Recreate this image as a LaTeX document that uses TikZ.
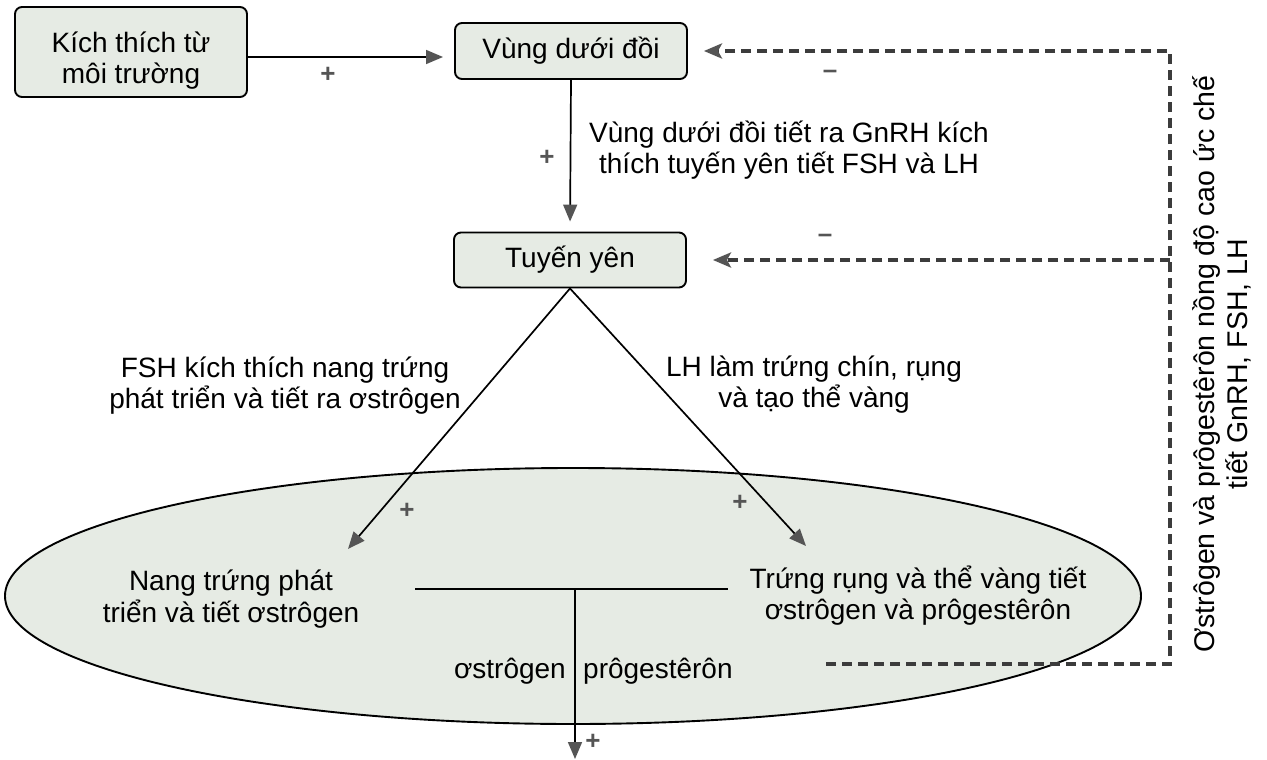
\documentclass[tikz,border=0pt]{standalone}
\usepackage{fontspec}
\setmainfont{Liberation Sans}
\usetikzlibrary{arrows.meta,shapes.geometric}
\definecolor{boxfill}{HTML}{E6EBE4}
\definecolor{headgray}{HTML}{555555}
\definecolor{dashgray}{HTML}{3C3C3C}
\begin{document}
\begin{tikzpicture}[x=1pt,y=-1pt,
  txt/.style={font=\fontsize{28}{31}\selectfont, align=center, inner sep=0pt},
  organ/.style={txt, draw=black, line width=1.9pt, rounded corners=7pt, fill=boxfill},
  arr/.style={line width=1.7pt, -{Triangle[length=17pt,width=14pt,color=headgray,fill=headgray]}},
  fb/.style={dashgray, line width=3.5pt, dash pattern=on 10pt off 6pt},
  fbarr/.style={fb, -{Stealth[length=18pt,width=15pt,inset=4pt,color=headgray,fill=headgray]}},
  sign/.style={font=\fontsize{26}{26}\selectfont\bfseries, text=headgray, inner sep=0pt}
]
\fill[white] (0,0) rectangle (1267,760);
\useasboundingbox (0,0) rectangle (1267,760);

% ovary ellipse
\node (ovary) [ellipse, draw=black, line width=1.9pt, fill=boxfill, minimum width=1136pt, minimum height=256pt, inner sep=0pt] at (573,596) {};

% organ boxes
\node (env)  [organ, minimum width=232pt, minimum height=90pt] at (131,52) {};
\node (envt) [txt] at ([yshift=-9pt]env.center) {Kích thích từ\\môi trường};
\node (hypo) [organ, minimum width=232pt, minimum height=56pt] at (571,51) {Vùng dưới đồi};
\node (pit)  [organ, minimum width=232pt, minimum height=55pt] at (570,260) {Tuyến yên};

% labels
\node (gnrh) [txt] at (789,150) {Vùng dưới đồi tiết ra GnRH kích\\thích tuyến yên tiết FSH và LH};
\node (fshl) [txt] at (285,386) {FSH kích thích nang trứng\\phát triển và tiết ra ơstrôgen};
\node (lhl)  [txt] at (814,385) {LH làm trứng chín, rụng\\và tạo thể vàng};
\node (foll) [txt, font=\fontsize{28}{32}\selectfont] at (231,599) {Nang trứng phát\\triển và tiết ơstrôgen};
\node (ovul) [txt, font=\fontsize{28}{31}\selectfont] at (918,596) {Trứng rụng và thể vàng tiết\\ơstrôgen và prôgestêrôn};
\node (estr) [txt, anchor=east] at (566,671) {ơstrôgen};
\node (prog) [txt, anchor=west] at (583,671) {prôgestêrôn};
\node (fbl)  [txt, font=\fontsize{28.5}{33}\selectfont, rotate=90] at (1222,364) {Ơstrôgen và prôgestêrôn nồng độ cao ức chế\\tiết GnRH, FSH, LH};

% signs
\node (p1) [sign] at (328,75) {+};
\node (p2) [sign] at (547,158) {+};
\node (p3) [sign] at (407,511) {+};
\node (p4) [sign] at (740,503) {+};
\node (p5) [sign] at (593,742) {+};
\node (m1) [sign] at (830,74) {–};
\node (m2) [sign] at (825,238) {–};

% coordinates
\coordinate (a1) at (443,57);
\coordinate (fT) at (348,549);
\coordinate (oT) at (806,546);
\coordinate (tL) at (415,589);
\coordinate (tR) at (728,589);
\coordinate (tM) at (575,589);
\coordinate (outT) at (575,759);
\coordinate (fbS) at (826,664);
\coordinate (fbC1) at (1170,664);
\coordinate (fbC2) at (1170,51);
\coordinate (fbM) at (1170,260);

% solid connectors
\draw[arr] (env.east |- a1) -- (a1);
\draw[arr, shorten >=10pt] (hypo.south) -- (pit.north);
\draw[arr] (pit.south) -- (fT);
\draw[arr] (pit.south) -- (oT);
\draw[line width=1.9pt] (tL) -- (tR);
\draw[arr] (tM) -- (outT);

% feedback (dashed)
\draw[fbarr] (fbS) -- (fbC1) -- (fbC2) -- ([xshift=16pt]hypo.east);
\draw[fbarr] (fbM) -- ([xshift=26pt]pit.east);
\end{tikzpicture}
\end{document}
